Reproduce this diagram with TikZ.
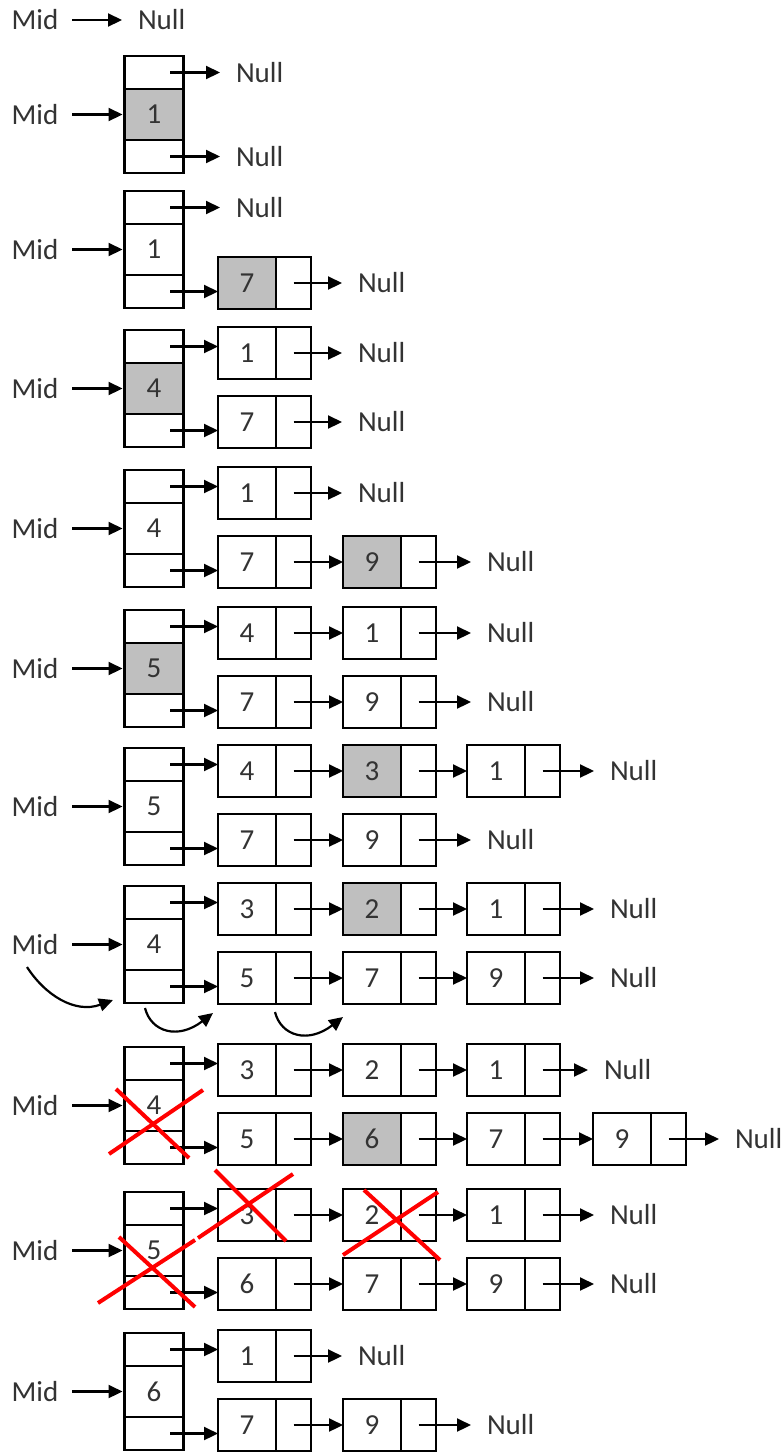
\documentclass[tikz,border=0pt]{standalone}
\usepackage{fontspec}
\setmainfont{Carlito}
\usepackage{tikz}
\usetikzlibrary{positioning,arrows.meta}

% stack: name, top y, value, fill
\newcommand{\stk}[4]{%
  \node[tcell] (#1t) at (154,#2+16.5) {};
  \node[mcell,fill=#4] (#1m) at (154,#2+58.5) {#3};
  \node[tcell] (#1b) at (154,#2+100.5) {};
  \node[lbl] (#1l) at (35,#2+58.5) {Mid};
  \draw[arr,shorten >=2pt] (#1l) -- (#1m);
}
% list node: name, left x, y, value, fill
\newcommand{\lst}[5]{%
  \node[keybox,fill=#5] (#1) at (#2,#3) {#4};
  \node[ptrbox,right=0pt of #1] (#1p) {};
}

\begin{document}
\begin{tikzpicture}[x=1pt,y=-1pt,
  every node/.style={font=\fontsize{29}{34}\selectfont, text=black!80, outer sep=0pt},
  tcell/.style={draw, line width=2.8pt, minimum width=59pt, minimum height=33pt, inner sep=0pt},
  mcell/.style={tcell, minimum height=51pt},
  keybox/.style={draw, line width=2.8pt, minimum width=58pt, minimum height=52pt, inner sep=0pt, anchor=west},
  ptrbox/.style={draw, line width=2.8pt, minimum width=35pt, minimum height=52pt, inner sep=0pt},
  lbl/.style={inner xsep=14pt, inner ysep=0pt},
  nul/.style={inner xsep=16pt, inner ysep=0pt, anchor=west},
  arr/.style={line width=2.2pt, -{Triangle[length=14pt,width=13pt]}},
  redx/.style={red, line width=4pt}]
\useasboundingbox (0,0) rectangle (783,1452);

% empty
\node[lbl] (m0) at (35,20) {Mid};
\node[nul] (n0) at (122,20) {Null};
\draw[arr] (m0) -- (n0.west);

% insert 1
\stk{A}{56}{1}{gray!50}
\node[nul] (Aun) at (220,72.5) {Null};
\node[nul] (Adn) at (220,156.5) {Null};
\draw[arr] ([xshift=16pt]At.center) -- (Aun.west);
\draw[arr] ([xshift=16pt]Ab.center) -- (Adn.west);

% insert 7
\stk{B}{191}{1}{white}
\node[nul] (Bun) at (220,207.5) {Null};
\lst{Bd1}{218}{283}{7}{gray!50}
\node[nul] (Bdn) at (342,283) {Null};
\draw[arr] ([xshift=16pt]Bt.center) -- (Bun.west);
\draw[arr] ([xshift=16pt]Bb.center) -- (Bb -| Bd1.west);
\draw[arr] (Bd1p.center) -- (Bdn.west);

% insert 4
\stk{C}{330}{4}{gray!50}
\lst{Cu1}{218}{353}{1}{white}
\lst{Cd1}{218}{422}{7}{white}
\node[nul] (Cun) at (342,353) {Null};
\node[nul] (Cdn) at (342,422) {Null};
\draw[arr] ([xshift=16pt]Ct.center) -- (Ct -| Cu1.west);
\draw[arr] ([xshift=16pt]Cb.center) -- (Cb -| Cd1.west);
\foreach \a/\b in {Cu1p/Cun,Cd1p/Cdn}
  \draw[arr] (\a.center) -- (\b.west);

% insert 9
\stk{D}{470}{4}{white}
\lst{Du1}{218}{493}{1}{white}
\lst{Dd1}{218}{562}{7}{white}
\lst{Dd2}{343}{562}{9}{gray!50}
\node[nul] (Dun) at (342,493) {Null};
\node[nul] (Ddn) at (471,562) {Null};
\draw[arr] ([xshift=16pt]Dt.center) -- (Dt -| Du1.west);
\draw[arr] ([xshift=16pt]Db.center) -- (Db -| Dd1.west);
\foreach \a/\b in {Du1p/Dun,Dd1p/Dd2,Dd2p/Ddn}
  \draw[arr] (\a.center) -- (\b.west);

% insert 5
\stk{E}{610}{5}{gray!50}
\lst{Eu1}{218}{633}{4}{white}
\lst{Eu2}{343}{633}{1}{white}
\lst{Ed1}{218}{702}{7}{white}
\lst{Ed2}{343}{702}{9}{white}
\node[nul] (Eun) at (471,633) {Null};
\node[nul] (Edn) at (471,702) {Null};
\draw[arr] ([xshift=16pt]Et.center) -- (Et -| Eu1.west);
\draw[arr] ([xshift=16pt]Eb.center) -- (Eb -| Ed1.west);
\foreach \a/\b in {Eu1p/Eu2,Eu2p/Eun,Ed1p/Ed2,Ed2p/Edn}
  \draw[arr] (\a.center) -- (\b.west);

% insert 3
\stk{F}{748}{5}{white}
\lst{Fu1}{218}{771}{4}{white}
\lst{Fu2}{343}{771}{3}{gray!50}
\lst{Fu3}{467}{771}{1}{white}
\lst{Fd1}{218}{840}{7}{white}
\lst{Fd2}{343}{840}{9}{white}
\node[nul] (Fun) at (594,771) {Null};
\node[nul] (Fdn) at (471,840) {Null};
\draw[arr] ([xshift=16pt]Ft.center) -- (Ft -| Fu1.west);
\draw[arr] ([xshift=16pt]Fb.center) -- (Fb -| Fd1.west);
\foreach \a/\b in {Fu1p/Fu2,Fu2p/Fu3,Fu3p/Fun,Fd1p/Fd2,Fd2p/Fdn}
  \draw[arr] (\a.center) -- (\b.west);

% insert 2, mid moves
\stk{G}{886}{4}{white}
\lst{Gu1}{218}{909}{3}{white}
\lst{Gu2}{343}{909}{2}{gray!50}
\lst{Gu3}{467}{909}{1}{white}
\lst{Gd1}{218}{978}{5}{white}
\lst{Gd2}{343}{978}{7}{white}
\lst{Gd3}{467}{978}{9}{white}
\node[nul] (Gun) at (594,909) {Null};
\node[nul] (Gdn) at (594,978) {Null};
\draw[arr] ([xshift=16pt]Gt.center) -- (Gt -| Gu1.west);
\draw[arr] ([xshift=16pt]Gb.center) -- (Gb -| Gd1.west);
\foreach \a/\b in {Gu1p/Gu2,Gu2p/Gu3,Gu3p/Gun,Gd1p/Gd2,Gd2p/Gd3,Gd3p/Gdn}
  \draw[arr] (\a.center) -- (\b.west);
\coordinate (c1) at (27,967);
\coordinate (c2) at (113,1000);
\coordinate (c3) at (145,1008);
\coordinate (c4) at (213,1013);
\coordinate (c5) at (275,1012);
\coordinate (c6) at (343,1017);
\draw[arr] (c1) .. controls (45,995) and (75,1014) .. (c2);
\draw[arr] (c3) .. controls (151,1032) and (178,1040) .. (c4);
\draw[arr] (c5) .. controls (281,1036) and (308,1044) .. (c6);

% insert 6
\stk{H}{1047}{4}{white}
\lst{Hu1}{218}{1070}{3}{white}
\lst{Hu2}{343}{1070}{2}{white}
\lst{Hu3}{467}{1070}{1}{white}
\lst{Hd1}{218}{1139}{5}{white}
\lst{Hd2}{343}{1139}{6}{gray!50}
\lst{Hd3}{467}{1139}{7}{white}
\lst{Hd4}{593}{1139}{9}{white}
\node[nul] (Hun) at (588,1070) {Null};
\node[nul] (Hdn) at (719,1139) {Null};
\draw[arr] ([xshift=16pt]Ht.center) -- (Ht -| Hu1.west);
\draw[arr] ([xshift=16pt]Hb.center) -- (Hb -| Hd1.west);
\foreach \a/\b in {Hu1p/Hu2,Hu2p/Hu3,Hu3p/Hun,Hd1p/Hd2,Hd2p/Hd3,Hd3p/Hd4,Hd4p/Hdn}
  \draw[arr] (\a.center) -- (\b.west);

% delete
\stk{I}{1192}{5}{white}
\lst{Iu1}{218}{1215}{3}{white}
\lst{Iu2}{343}{1215}{2}{white}
\lst{Iu3}{467}{1215}{1}{white}
\lst{Id1}{218}{1284}{6}{white}
\lst{Id2}{343}{1284}{7}{white}
\lst{Id3}{467}{1284}{9}{white}
\node[nul] (Iun) at (594,1215) {Null};
\node[nul] (Idn) at (594,1284) {Null};
\draw[arr] ([xshift=16pt]It.center) -- (It -| Iu1.west);
\draw[arr] ([xshift=16pt]Ib.center) -- (Ib -| Id1.west);
\foreach \a/\b in {Iu1p/Iu2,Iu2p/Iu3,Iu3p/Iun,Id1p/Id2,Id2p/Id3,Id3p/Idn}
  \draw[arr] (\a.center) -- (\b.west);

% result
\stk{J}{1333}{6}{white}
\lst{Ju1}{218}{1356}{1}{white}
\lst{Jd1}{218}{1425}{7}{white}
\lst{Jd2}{343}{1425}{9}{white}
\node[nul] (Jun) at (342,1356) {Null};
\node[nul] (Jdn) at (471,1425) {Null};
\draw[arr] ([xshift=16pt]Jt.center) -- (Jt -| Ju1.west);
\draw[arr] ([xshift=16pt]Jb.center) -- (Jb -| Jd1.west);
\foreach \a/\b in {Ju1p/Jun,Jd1p/Jd2,Jd2p/Jdn}
  \draw[arr] (\a.center) -- (\b.west);

% crossed out
\draw[redx] (109,1154) -- (203,1090);
\draw[redx] (116,1089) -- (189,1158);
\draw[redx] (119,1237) -- (195,1307);
\draw[redx] (98,1303) -- (195,1240);
\draw[redx] (198,1238) -- (293,1174);
\draw[redx] (215,1170) -- (286,1241);
\draw[redx] (364,1190) -- (440,1260);
\draw[redx] (343,1255) -- (438,1192);
\end{tikzpicture}
\end{document}
